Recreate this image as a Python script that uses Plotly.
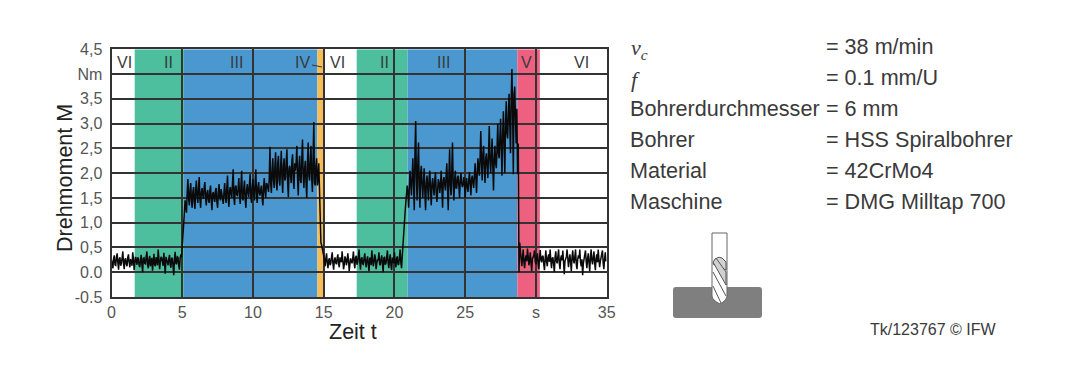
import plotly.graph_objects as go

# The page sets the figure 8 px in from the top left corner
OFF = 8
W, H = 1080 - OFF, 377 - OFF
L, R, T, B = 111.5 - OFF, 606.7 - OFF, 49.3 - OFF, 297.0 - OFF

# Drehmoment [Nm], one row per second of measuring time, samples at 0.0, 0.1, ... s
row_00 = [0.25,0.08,0.34,0.14,0.38,0.05,0.30,0.18,0.42,0.06]
row_01 = [0.28,0.12,0.36,0.10,0.24,0.40,0.04,0.31,0.15,0.27]
row_02 = [0.10,0.35,0.00,0.29,0.17,0.42,0.08,0.33,0.20,0.03]
row_03 = [0.37,0.12,0.26,0.46,0.06,0.31,0.18,0.39,-0.03,0.24]
row_04 = [0.14,0.35,0.09,0.28,-0.06,0.41,0.16,0.30,0.05,0.36]
row_05 = [0.48,0.95,1.45,1.20,1.88,1.35,1.80,1.30,1.72,1.28]
row_06 = [1.85,1.40,1.92,1.30,1.70,1.48,1.82,1.35,1.66,1.40]
row_07 = [1.75,1.25,1.62,1.42,1.70,1.30,1.78,1.45,1.60,1.38]
row_08 = [1.80,1.40,1.95,1.32,1.72,1.50,2.08,1.36,1.75,1.55]
row_09 = [1.90,1.38,2.05,1.45,1.85,1.30,1.78,1.52,1.98,1.40]
row_10 = [1.88,1.45,2.08,1.40,1.82,1.55,1.75,1.35,1.90,1.50]
row_11 = [1.78,1.62,2.53,1.60,2.30,1.70,2.42,1.65,2.35,1.75]
row_12 = [2.45,1.60,2.30,1.90,2.48,1.52,2.15,1.80,2.38,1.68]
row_13 = [2.05,2.55,1.55,2.35,1.80,2.68,1.70,2.25,1.50,2.62]
row_14 = [1.85,2.55,1.62,3.03,1.75,2.30,1.88,1.55,0.60,0.50]
row_15 = [0.33,0.12,0.38,0.08,0.28,0.18,0.40,0.05,0.30,0.16]
row_16 = [0.36,0.10,0.26,0.42,0.06,0.32,0.14,0.38,0.02,0.28]
row_17 = [0.18,0.42,0.08,0.33,0.20,0.46,0.05,0.30,0.16,0.38]
row_18 = [0.10,0.32,0.02,0.28,0.44,0.12,0.36,0.06,0.26,0.40]
row_19 = [0.14,0.34,0.00,0.30,0.18,0.44,0.08,0.36,0.04,0.28]
row_20 = [0.40,0.10,0.32,0.16,0.46,0.08,0.60,1.00,1.40,1.75]
row_21 = [1.30,2.05,1.55,2.30,1.25,3.05,1.45,2.62,1.30,2.15]
row_22 = [1.50,2.10,1.25,1.95,1.45,2.05,1.35,1.90,1.55,2.02]
row_23 = [1.42,1.88,1.60,2.05,1.30,1.92,1.65,2.20,1.25,2.48]
row_24 = [1.55,2.62,1.45,2.05,1.70,1.95,1.50,2.00,1.72,1.92]
row_25 = [1.50,1.90,1.62,2.02,1.55,1.95,1.70,2.20,1.60,2.30]
row_26 = [1.95,2.85,1.85,2.55,1.80,2.40,1.90,2.95,2.00,2.70]
row_27 = [1.65,2.55,2.10,3.00,2.30,3.10,1.95,3.25,2.00,3.45]
row_28 = [2.70,3.60,2.40,4.10,1.98,3.75,2.60,1.98,0.00,0.42]
row_29 = [0.12,0.46,0.08,0.34,0.48,0.14,0.40,0.02,0.30,0.44]
row_30 = [0.16,0.38,0.06,0.45,0.20,0.33,0.04,0.44,0.12,0.36]
row_31 = [0.46,0.08,0.30,0.00,0.42,0.18,0.46,0.06,0.34,0.44]
row_32 = [-0.04,0.28,0.46,0.10,0.36,0.02,0.44,0.18,0.46,0.06]
row_33 = [0.34,0.46,0.12,-0.06,0.30,0.44,0.08,0.38,0.02,0.46]
row_34 = [0.16,0.42,0.04,0.36,0.46,0.10,0.28,0.44,0.06,0.40]
torque_rows = [row_00,row_01,row_02,row_03,row_04,row_05,row_06,row_07,row_08,row_09,
               row_10,row_11,row_12,row_13,row_14,row_15,row_16,row_17,row_18,row_19,
               row_20,row_21,row_22,row_23,row_24,row_25,row_26,row_27,row_28,row_29,
               row_30,row_31,row_32,row_33,row_34]

# Samples in between, at 0.05, 0.15, ... s
mid_00 = [0.18,0.28,0.15,0.30,0.20,0.27,0.13,0.29,0.17,0.26]
mid_01 = [0.16,0.30,0.20,0.25,0.13,0.28,0.19,0.24,0.30,0.14]
mid_02 = [0.26,0.15,0.28,0.18,0.31,0.16,0.26,0.12,0.29,0.21]
mid_03 = [0.16,0.30,0.14,0.27,0.20,0.29,0.13,0.24,0.31,0.17]
mid_04 = [0.27,0.15,0.29,0.12,0.26,0.18,0.31,0.14,0.27,0.30]
mid_05 = [0.70,1.20,1.35,1.60,1.50,1.65,1.45,1.62,1.42,1.68]
mid_06 = [1.52,1.70,1.48,1.62,1.55,1.72,1.50,1.60,1.46,1.65]
mid_07 = [1.45,1.58,1.50,1.66,1.42,1.60,1.52,1.68,1.48,1.62]
mid_08 = [1.52,1.70,1.48,1.65,1.58,1.78,1.50,1.72,1.56,1.68]
mid_09 = [1.55,1.75,1.50,1.70,1.48,1.66,1.60,1.78,1.52,1.72]
mid_10 = [1.62,1.78,1.55,1.72,1.60,1.68,1.50,1.74,1.62,1.80]
mid_11 = [1.70,1.90,1.80,2.05,1.85,2.15,1.80,2.20,1.85,2.10]
mid_12 = [1.90,2.15,1.85,2.25,1.80,2.10,1.95,2.25,1.85,2.20]
mid_13 = [2.20,1.90,2.15,1.85,2.30,1.95,2.10,1.80,2.20,1.95]
mid_14 = [2.25,1.90,2.35,1.80,2.15,1.75,2.20,1.20,0.55,0.40]
mid_15 = [0.22,0.28,0.18,0.25,0.14,0.30,0.17,0.24,0.19,0.29]
mid_16 = [0.17,0.30,0.20,0.24,0.15,0.28,0.21,0.26,0.16,0.22]
mid_17 = [0.28,0.18,0.30,0.15,0.32,0.20,0.27,0.17,0.28,0.20]
mid_18 = [0.25,0.16,0.28,0.14,0.26,0.20,0.30,0.18,0.24,0.16]
mid_19 = [0.27,0.17,0.29,0.15,0.30,0.20,0.25,0.14,0.28,0.18]
mid_20 = [0.20,0.28,0.15,0.30,0.20,0.32,0.80,1.20,1.55,1.60]
mid_21 = [1.70,1.80,1.95,1.75,2.45,1.90,2.20,1.70,2.00,1.75]
mid_22 = [1.85,1.60,1.80,1.70,1.90,1.65,1.78,1.70,1.85,1.62]
mid_23 = [1.65,1.80,1.75,1.70,1.85,1.78,1.95,1.72,1.98,1.75]
mid_24 = [2.05,1.80,1.85,1.70,1.90,1.75,1.85,1.80,1.78,1.75]
mid_25 = [1.82,1.70,1.85,1.78,1.88,1.80,1.95,1.90,2.00,2.10]
mid_26 = [2.30,2.20,2.40,2.10,2.30,2.15,2.40,2.25,2.35,2.15]
mid_27 = [2.30,2.20,2.50,2.40,2.70,2.50,2.80,2.60,3.00,2.80]
mid_28 = [3.20,3.00,3.50,3.30,3.60,3.10,3.30,2.60,0.60,0.25]
mid_29 = [0.30,0.20,0.28,0.22,0.32,0.24,0.18,0.28,0.35,0.22]
mid_30 = [0.30,0.18,0.28,0.25,0.32,0.17,0.27,0.22,0.30,0.21]
mid_31 = [0.24,0.28,0.16,0.30,0.22,0.32,0.18,0.28,0.24,0.20]
mid_32 = [0.22,0.32,0.18,0.26,0.20,0.30,0.24,0.32,0.16,0.26]
mid_33 = [0.28,0.20,0.26,0.18,0.32,0.22,0.28,0.18,0.30,0.24]
mid_34 = [0.30,0.18,0.28,0.20,0.26,0.22,0.32,0.19,0.27,0.22]
mid_rows = [mid_00,mid_01,mid_02,mid_03,mid_04,mid_05,mid_06,mid_07,mid_08,mid_09,
            mid_10,mid_11,mid_12,mid_13,mid_14,mid_15,mid_16,mid_17,mid_18,mid_19,
            mid_20,mid_21,mid_22,mid_23,mid_24,mid_25,mid_26,mid_27,mid_28,mid_29,
            mid_30,mid_31,mid_32,mid_33,mid_34]

time_s, torque = [], []
for s, (row, mid) in enumerate(zip(torque_rows, mid_rows)):
    for i, (a, b) in enumerate(zip(row, mid)):
        time_s += [s + i / 10, s + i / 10 + 0.05]
        torque += [a, b]

# Process phases
phase_edges = [0, 1.64, 5.12, 14.55, 15.0, 17.33, 20.93, 28.68, 30.28, 35]
phase_colors = ["#ffffff","#4dbf9e","#4a98cf","#f5bc58","#ffffff","#4dbf9e","#4a98cf","#ee6080","#ffffff"]
phase_names = ["VI","II","III","IV","VI","II","III","V","VI"]
phase_label_x = [0.9,4.0,8.85,13.5,16.0,19.3,23.5,29.35,33.25]

y_ticks = [-0.5,0,0.5,1,1.5,2,2.5,3,3.5,4,4.5]
y_labels = ["-0.5","0.0","0,5","1,0","1,5","2,0","2,5","3,0","3,5","Nm","4,5"]
x_ticks = [0,5,10,15,20,25,30,35]
x_labels = ["0","5","10","15","20","25","s","35"]

param_names = ["Bohrerdurchmesser","Bohrer","Material","Maschine"]
param_values = ["= 38 m/min","= 0.1 mm/U","= 6 mm","= HSS Spiralbohrer","= 42CrMo4","= DMG Milltap 700"]

fig = go.Figure()
fig.add_trace(go.Scatter(x=time_s, y=torque, mode="lines",
                         line=dict(color="#0a0a0a", width=1.5), hoverinfo="skip", showlegend=False))
# invisible helper trace so the pixel-based overlay axes exist
fig.add_trace(go.Scatter(x=[0], y=[0], xaxis="x2", yaxis="y2", mode="markers",
                         marker=dict(opacity=0), hoverinfo="skip", showlegend=False))

shapes = []
for i, c in enumerate(phase_colors):
    shapes.append(dict(type="rect", xref="x", yref="y", layer="below", x0=phase_edges[i], x1=phase_edges[i+1],
                       y0=-0.5, y1=4.5, fillcolor=c, line_width=0))

# drill pictogram on the pixel overlay
def px(d, **kw):
    return dict(type="path", path=d, xref="x2", yref="y2", layer="above", **kw)
shapes += [
    px("M 676 287 L 759 287 Q 762 287 762 290 L 762 315 Q 762 318 759 318 L 676 318 Q 673 318 673 315 L 673 290 Q 673 287 676 287 Z",
       fillcolor="#7f7f7f", line=dict(width=0)),
    px("M 712 233 L 727 233 L 727 296 Q 727 300 720 304 Q 712 300 712 296 Z", fillcolor="#ffffff", line=dict(color="#666666", width=1)),
    px("M 713 264 Q 716 255 722 258 L 726 262 L 726 270 L 713 264 Z", fillcolor="#d4d4d4", line=dict(color="#555555", width=1)),
    px("M 713 262 L 726 285 L 726 272 L 716 258 Z", fillcolor="#d0d0d0", line=dict(color="#555555", width=1)),
    px("M 713 272 L 726 296", line=dict(color="#555555", width=1)),
    px("M 713 286 L 721 303", line=dict(color="#555555", width=1)),
    px("M 312 65 L 322 67", line=dict(color="#333333", width=1)),
]

ann = []
def text(x, y, s, size, color="#3a3a3a", family="Liberation Sans", **kw):
    ann.append(dict(x=x, y=y, xref="x2", yref="y2", text=s, showarrow=False, xanchor=kw.pop("xanchor","left"),
                    yanchor="middle", font=dict(size=size, color=color, family=family), **kw))

for name, lx in zip(phase_names, phase_label_x):
    ann.append(dict(x=lx, y=4.23, xref="x", yref="y", text=name, showarrow=False,
                    font=dict(size=16, color="#3a3a3a", family="Liberation Sans")))

text(629, 49, "<i>v<sub>c</sub></i>", 22, family="Liberation Serif")
text(629, 79, "<i>f</i>", 22, family="Liberation Serif")
for name, y in zip(param_names, [108, 139, 170, 201]):
    text(628, y, name, 21.6)
for val, y in zip(param_values, [46, 77, 108, 139, 170, 201]):
    text(824, y, val, 21.6)
text(868, 329, "Tk/123767 © IFW", 16)
text(353, 332, "Zeit t", 21.5, color="#222222", xanchor="center")
text(65, 178, "Drehmoment M", 21.5, color="#222222", xanchor="center", textangle=-90)

axis_font = dict(size=16, color="#555555", family="Liberation Sans")
grid = dict(showgrid=True, gridcolor="#333333", gridwidth=1.5, zeroline=False, showline=True,
            linecolor="#333333", linewidth=2, mirror=True, ticks="", tickfont=axis_font, automargin=False)

fig.update_layout(
    width=W, height=H, autosize=False, paper_bgcolor="white", plot_bgcolor="rgba(0,0,0,0)",
    margin=dict(l=0, r=0, t=0, b=0, autoexpand=False), showlegend=False, shapes=shapes, annotations=ann,
    xaxis=dict(domain=[L / W, R / W], range=[0, 35], tickmode="array", tickvals=x_ticks, ticktext=x_labels,
               anchor="y", ticklabelstandoff=0, **grid),
    yaxis=dict(domain=[1 - B / H, 1 - T / H], range=[-0.5, 4.5], tickmode="array", tickvals=y_ticks, ticktext=y_labels,
               anchor="x", ticklabelstandoff=4, **grid),
    xaxis2=dict(domain=[0, 1], range=[OFF, 1080], visible=False, anchor="y2", automargin=False),
    yaxis2=dict(domain=[0, 1], range=[377, OFF], visible=False, anchor="x2", automargin=False),
)
fig.write_html("out.html", config=dict(displayModeBar=False))
